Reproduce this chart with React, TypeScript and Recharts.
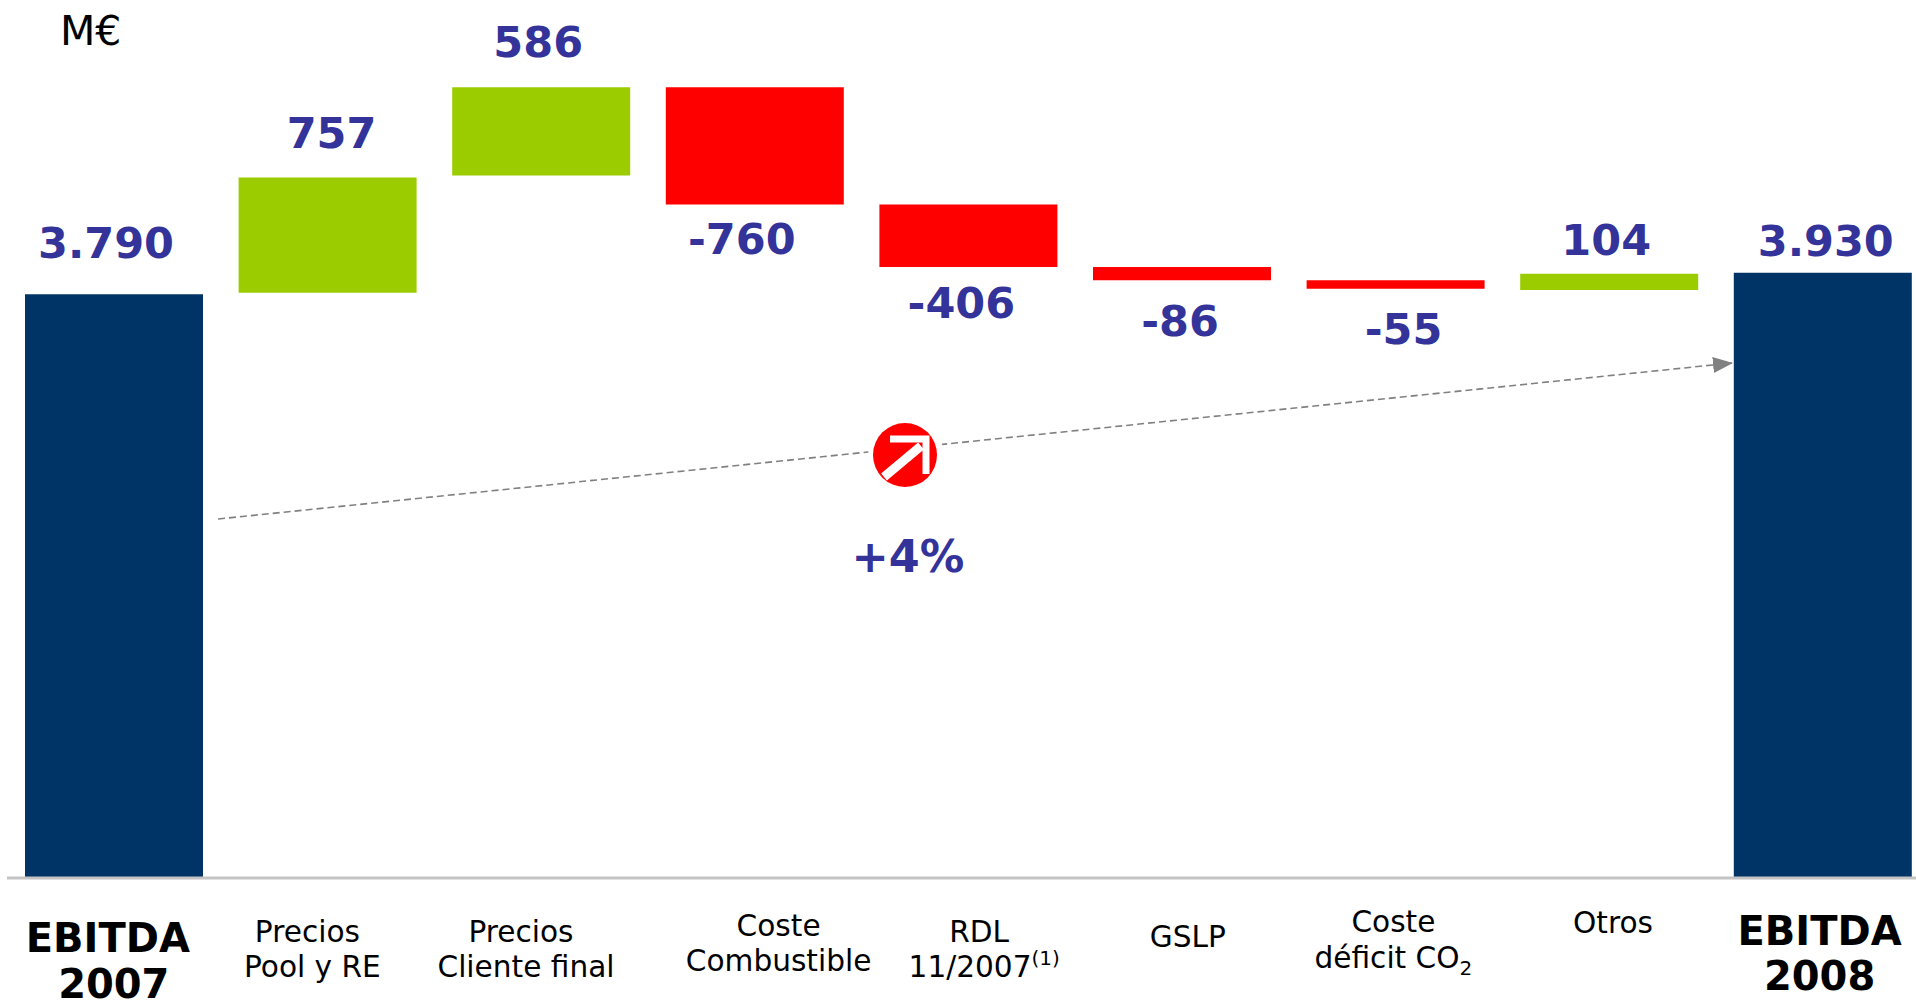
import React from "react";
import { BarChart, Bar, Cell, XAxis, YAxis, LabelList } from "recharts";

const categories = ["EBITDA 2007", "Precios Pool y RE", "Precios Cliente final", "Coste Combustible", "RDL 11/2007", "GSLP", "Coste déficit CO2", "Otros", "EBITDA 2008"];
const barLow = [0, 3800, 4560, 4373, 3967, 3881, 3826, 3818, 0];
const barHigh = [3790, 4547, 5133, 5133, 4373, 3967, 3881, 3922, 3930];
const valueLabels = ["3.790", "757", "586", "-760", "-406", "-86", "-55", "104", "3.930"];
const barKinds = ["total", "up", "up", "down", "down", "down", "down", "up", "total"];

const kindFill: Record<string, string> = { total: "#003366", up: "#9BCC00", down: "#FF0000" };
const labelDx = [-8, 4, -3, -13, -7, -2, 8, -3, 3];
const labelDy = [-36, -30, -30, 167, 114, 69, 64, -19, -17];

type TickLine = { parts: { t: string; sup?: boolean; sub?: boolean }[]; dx: number; y: number; bold?: boolean };
const tickLines: TickLine[][] = [
  [{ parts: [{ t: "EBITDA" }], dx: -6, y: 952, bold: true }, { parts: [{ t: "2007" }], dx: 0, y: 998, bold: true }],
  [{ parts: [{ t: "Precios" }], dx: -20, y: 942 }, { parts: [{ t: "Pool y RE" }], dx: -15, y: 977 }],
  [{ parts: [{ t: "Precios" }], dx: -20, y: 942 }, { parts: [{ t: "Cliente final" }], dx: -15, y: 977 }],
  [{ parts: [{ t: "Coste" }], dx: 24, y: 936 }, { parts: [{ t: "Combustible" }], dx: 24, y: 971 }],
  [{ parts: [{ t: "RDL" }], dx: 11, y: 942 }, { parts: [{ t: "11/2007" }, { t: "(1)", sup: true }], dx: 16, y: 977 }],
  [{ parts: [{ t: "GSLP" }], dx: 6, y: 947 }],
  [{ parts: [{ t: "Coste" }], dx: -2, y: 932 }, { parts: [{ t: "déficit CO" }, { t: "2", sub: true }], dx: -2, y: 968 }],
  [{ parts: [{ t: "Otros" }], dx: 4, y: 933 }],
  [{ parts: [{ t: "EBITDA" }], dx: -3, y: 945, bold: true }, { parts: [{ t: "2008" }], dx: -3, y: 990, bold: true }],
];

const data = categories.map((name, i) => ({ name, range: [barLow[i], barHigh[i]], label: valueLabels[i] }));
const FONT = "'DejaVu Sans', Verdana, sans-serif";
const LABEL_COLOR = "#333399";

function CategoryTick(props: any) {
  const { x, index } = props;
  const lines = tickLines[index] || [];
  return (
    <g>
      {lines.map((l, i) => (
        <text key={i} x={x + l.dx} y={l.y} textAnchor="middle" fontFamily={FONT} fontWeight={l.bold ? 700 : 400} fontSize={l.bold ? 40 : 29.6} fill="#000">
          {l.parts.map((p, j) => (
            <tspan key={j} fontSize={p.sup || p.sub ? 20 : undefined} dy={p.sup ? -12 : p.sub ? 7 : undefined}>{p.t}</tspan>
          ))}
        </text>
      ))}
    </g>
  );
}

function ValueLabel(props: any) {
  const { x, y, width, index } = props;
  return (
    <text x={x + width / 2 + labelDx[index]} y={y + labelDy[index]} textAnchor="middle" fontFamily={FONT} fontWeight={700} fontSize={43} fill={LABEL_COLOR}>
      {valueLabels[index]}
    </text>
  );
}

export default function App() {
  return (
    <div style={{ position: "absolute", left: 0, top: 0, width: 1916, height: 1000, overflow: "hidden", background: "#fff" }}>
      <BarChart width={1930} height={1000} data={data} margin={{ top: 0, right: 0.6, bottom: 0, left: 7 }} barCategoryGap={35.6}>
        <defs>
          <marker id="growthHead" markerUnits="userSpaceOnUse" markerWidth="20" markerHeight="16" refX="19" refY="8" orient="auto">
            <path d="M0,0 L20,8 L0,16 Z" fill="#808080" />
          </marker>
        </defs>
        <XAxis dataKey="name" interval={0} height={122} tickLine={false} axisLine={{ stroke: "#C4C4C4", strokeWidth: 3 }} tick={<CategoryTick />} />
        <YAxis hide type="number" domain={[0, 5700]} />
        <Bar dataKey="range" isAnimationActive={false} barSize={178}>
          {data.map((_, i) => (
            <Cell key={i} fill={kindFill[barKinds[i]]} />
          ))}
          <LabelList dataKey="label" content={<ValueLabel />} />
        </Bar>
        <line x1={218} y1={519} x2={1732} y2={363} stroke="#808080" strokeWidth={1.6} strokeDasharray="7 4" markerEnd="url(#growthHead)" />
        <circle cx={906} cy={456} r={38} fill="#fff" />
        <circle cx={905} cy={455} r={32} fill="#FF0000" />
        <path d="M890,439 L926,439 L926,474" fill="none" stroke="#fff" strokeWidth={7} />
        <path d="M884,477 L921,446" fill="none" stroke="#fff" strokeWidth={9} />
        <text x={908} y={572} textAnchor="middle" fontFamily={FONT} fontWeight={700} fontSize={44.5} fill={LABEL_COLOR}>+4%</text>
        <text x={60} y={45} fontFamily={FONT} fontSize={41} fill="#000">M€</text>
      </BarChart>
    </div>
  );
}
